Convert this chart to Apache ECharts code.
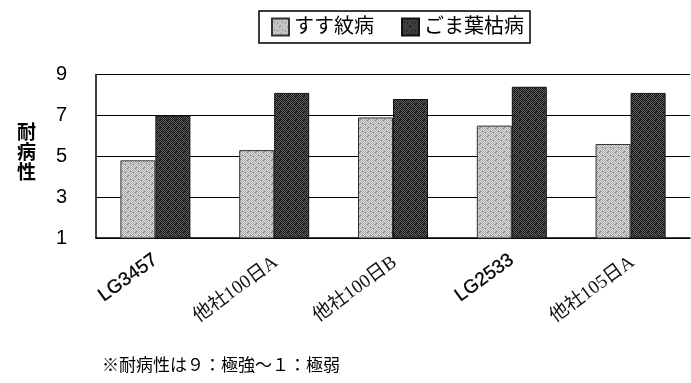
<!DOCTYPE html>
<html>
<head>
<meta charset="utf-8">
<script src="https://cdn.jsdelivr.net/npm/echarts@6/dist/echarts.min.js"></script>
<style>
  html, body { margin: 0; padding: 0; background: #fff; }
  #chart { width: 691px; height: 383px; }
</style>
</head>
<body>
<div id="chart"></div>
<script>
// Varieties on the x axis and disease-resistance scores (9 = very strong, 1 = very weak)
const categories = ['LG3457', '他社100日A', '他社100日B', 'LG2533', '他社105日A'];
const seriesNames = ['すす紋病', 'ごま葉枯病'];
const sootyBlotch = [4.8, 5.3, 6.9, 6.5, 5.6];
const leafSpot = [7.0, 8.1, 7.8, 8.4, 8.1];
const yTicks = [1, 3, 5, 7, 9];

// Dithered fill, like a halftone print
function ditherPattern(c1, c2, c3) {
  const cv = document.createElement('canvas');
  cv.width = 8; cv.height = 8;
  const ctx = cv.getContext('2d');
  for (let y = 0; y < 8; y++) {
    for (let x = 0; x < 8; x++) {
      const k = (x + y) % 2 === 0 ? c1 : ((x * 3 + y * 5) % 7 === 0 ? c3 : c2);
      ctx.fillStyle = k;
      ctx.fillRect(x, y, 1, 1);
    }
  }
  return { image: cv, repeat: 'repeat' };
}
const lightFill = ditherPattern('#a4a4a4', '#e2e2e2', '#8c8c8c');
const darkFill = ditherPattern('#181818', '#626262', '#2c2c2c');

const chart = echarts.init(document.getElementById('chart'));
const jp = '"Liberation Sans", "Noto Sans CJK JP", sans-serif';
const jpSerif = '"Liberation Serif", "Noto Sans CJK JP", serif';

chart.setOption({
  animation: false,
  backgroundColor: '#fff',
  legend: {
    left: 259, top: 11,
    padding: [6, 6, 6, 12],
    borderColor: '#000', borderWidth: 1.5,
    itemWidth: 17, itemHeight: 17, itemGap: 27,
    icon: 'rect',
    textStyle: { fontSize: 20, color: '#000', fontFamily: jp, padding: [2, 0, 0, 0] },
    data: seriesNames
  },
  grid: { left: 96, right: 1, top: 74.5, bottom: 145, containLabel: false },
  xAxis: {
    type: 'category',
    data: categories,
    axisLine: { lineStyle: { color: '#000', width: 1.5 } },
    axisTick: { inside: true, length: 7, lineStyle: { color: '#000' } },
    axisLabel: {
      interval: 0, rotate: 36, margin: 20,
      formatter: v => v.startsWith('LG') ? '{a|' + v + '}' : '{b|' + v + '}',
      rich: {
        a: { fontSize: 19, fontFamily: jp, color: '#000', textBorderColor: '#000', textBorderWidth: 0.3 },
        b: { fontSize: 19, fontFamily: jpSerif, color: '#111', padding: [6, 0, 0, 0] }
      }
    }
  },
  yAxis: {
    type: 'value', min: yTicks[0], max: yTicks[yTicks.length - 1], interval: 2,
    axisLine: { show: true, lineStyle: { color: '#000', width: 1.5 } },
    axisTick: { show: false },
    splitLine: { lineStyle: { color: '#000', width: 1 } },
    axisLabel: { fontSize: 20, color: '#000', fontFamily: jp, margin: 29 }
  },
  graphic: [
    {
      type: 'text', left: 17, top: 124,
      style: { text: '耐\n病\n性', font: 'bold 19px ' + jp, fill: '#000', lineHeight: 20 }
    },
    {
      type: 'text', left: 102, top: 358,
      style: { text: '※耐病性は９：極強～１：極弱', font: '17px ' + jp, fill: '#000' }
    }
  ],
  series: [
    {
      name: seriesNames[0], type: 'bar', data: sootyBlotch,
      barWidth: 35, barGap: '0%',
      itemStyle: { color: lightFill, borderColor: '#333', borderWidth: 1 }
    },
    {
      name: seriesNames[1], type: 'bar', data: leafSpot,
      barWidth: 35, barGap: '0%',
      itemStyle: { color: darkFill, borderColor: '#111', borderWidth: 1 }
    }
  ]
});
</script>
</body>
</html>
